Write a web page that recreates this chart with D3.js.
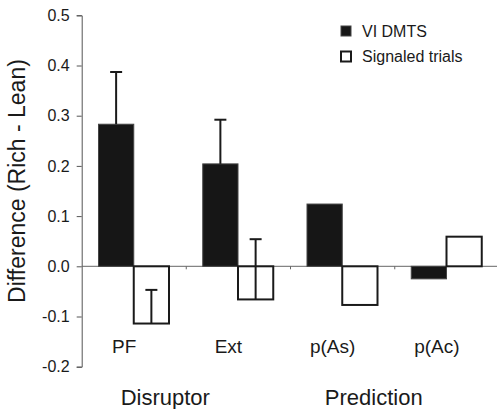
<!DOCTYPE html>
<html>
<head>
<meta charset="utf-8">
<script src="https://cdn.jsdelivr.net/npm/d3@7"></script>
<style>
  body { margin: 0; background: #fff; }
  text { font-family: "Liberation Sans", Arial, Helvetica, sans-serif; fill: #1a1a1a; }
</style>
</head>
<body>
<div id="chart"></div>
<script>
// data
var categories = ['PF', 'Ext', 'p(As)', 'p(Ac)'];
var series = ['VI DMTS', 'Signaled trials'];
var viValues = [0.283, 0.204, 0.124, -0.025];
var viErrors = [0.104, 0.088, null, null];
var signaledValues = [-0.114, -0.066, -0.077, 0.059];
var signaledErrors = [0.067, 0.120, null, null];
var yTicks = [-0.2, -0.1, 0.0, 0.1, 0.2, 0.3, 0.4, 0.5];
var groupLabels = ['Disruptor', 'Prediction'];
var yTitle = 'Difference (Rich - Lean)';

var width = 497;
var height = 409;

var svg = d3.select('#chart')
    .append('svg')
    .attr('width', width)
    .attr('height', height);

//scales
var x = d3.scaleBand()
    .domain(categories)
    .range([82, 499])
    .padding(0);

var x1 = d3.scaleBand()
    .domain(series)
    .range([16.5, 87])
    .padding(0);

var y = d3.scaleLinear()
    .domain([-0.2, 0.5])
    .range([366.7, 15.3]);

//y axis
var yAxis = svg.append('g')
    .attr('class', 'y-axis')
    .attr('transform', 'translate(81.7,0)')
    .call(d3.axisLeft(y)
        .tickValues(yTicks)
        .tickFormat(function(d){ return d.toFixed(1); })
        .tickSizeOuter(0)
        .tickSize(5)
        .tickPadding(7))
    .call(function(g){ g.attr('font-family', null).attr('font-size', null); });

yAxis.select('.domain').attr('stroke', '#555');
yAxis.selectAll('.tick line').attr('stroke', '#555');
yAxis.selectAll('.tick text')
    .style('font-size', '16px')
    .attr('fill', '#1a1a1a');

//zero line with ticks between groups
var xAxis = svg.append('g')
    .attr('class', 'x-axis')
    .attr('transform', 'translate(0,' + y(0) + ')');

xAxis.append('line')
    .attr('x1', 81.7)
    .attr('x2', width)
    .attr('y1', 0)
    .attr('y2', 0)
    .attr('stroke', '#666')
    .attr('stroke-width', 1);

xAxis.selectAll('.sep')
    .data(categories.slice(1))
    .enter()
    .append('line')
    .attr('class', 'sep')
    .attr('x1', function(d){ return x(d); })
    .attr('x2', function(d){ return x(d); })
    .attr('y1', 0)
    .attr('y2', 3)
    .attr('stroke', '#666');

//bars
var rows = categories.map(function(c, i){
    return [
        {cat: c, key: series[0], value: viValues[i], err: viErrors[i]},
        {cat: c, key: series[1], value: signaledValues[i], err: signaledErrors[i]}
    ];
});
var flat = [].concat.apply([], rows);

svg.append('g')
    .attr('class', 'bars')
    .selectAll('rect')
    .data(flat)
    .enter()
    .append('rect')
    .attr('x', function(d){ return x(d.cat) + x1(d.key); })
    .attr('y', function(d){ return y(Math.max(0, d.value)); })
    .attr('width', x1.bandwidth())
    .attr('height', function(d){ return Math.abs(y(d.value) - y(0)); })
    .attr('fill', function(d){ return d.key === series[0] ? '#161616' : '#fff'; })
    .attr('stroke', function(d){ return d.key === series[0] ? '#444' : '#1a1a1a'; })
    .attr('stroke-width', function(d){ return d.key === series[0] ? 1 : 2; });

//error bars, drawn upward from the bar end
var errs = flat.filter(function(d){ return d.err !== null; });
var eg = svg.append('g').attr('class', 'errors');

eg.selectAll('.err-line')
    .data(errs)
    .enter()
    .append('line')
    .attr('class', 'err-line')
    .attr('x1', function(d){ return x(d.cat) + x1(d.key) + x1.bandwidth() / 2; })
    .attr('x2', function(d){ return x(d.cat) + x1(d.key) + x1.bandwidth() / 2; })
    .attr('y1', function(d){ return y(d.value); })
    .attr('y2', function(d){ return y(d.value + d.err); })
    .attr('stroke', '#1a1a1a')
    .attr('stroke-width', 2);

eg.selectAll('.err-cap')
    .data(errs)
    .enter()
    .append('line')
    .attr('class', 'err-cap')
    .attr('x1', function(d){ return x(d.cat) + x1(d.key) + x1.bandwidth() / 2 - 6; })
    .attr('x2', function(d){ return x(d.cat) + x1(d.key) + x1.bandwidth() / 2 + 6; })
    .attr('y1', function(d){ return y(d.value + d.err); })
    .attr('y2', function(d){ return y(d.value + d.err); })
    .attr('stroke', '#1a1a1a')
    .attr('stroke-width', 2);

//category labels
svg.append('g')
    .selectAll('text')
    .data(categories)
    .enter()
    .append('text')
    .attr('x', function(d){ return x(d) + x.bandwidth() / 2 - 10; })
    .attr('y', 353)
    .attr('text-anchor', 'middle')
    .style('font-size', '19px')
    .text(function(d){ return d; });

//group labels
svg.append('g')
    .selectAll('text')
    .data(groupLabels)
    .enter()
    .append('text')
    .attr('x', function(d, i){ return x(categories[i * 2 + 1]) - 21; })
    .attr('y', 405)
    .attr('text-anchor', 'middle')
    .style('font-size', '22px')
    .text(function(d){ return d; });

//y title
svg.append('text')
    .attr('transform', 'translate(25,181) rotate(-90)')
    .attr('text-anchor', 'middle')
    .style('font-size', '23px')
    .text(yTitle);

//legend
var legend = svg.append('g')
    .attr('class', 'legend')
    .attr('transform', 'translate(340,25)');

series.forEach(function(key, i){
    var row = legend.append('g')
        .attr('transform', 'translate(0,' + (i * 25.5) + ')');
    row.append('rect')
        .attr('x', 1)
        .attr('y', 1)
        .attr('width', 10)
        .attr('height', 10)
        .attr('fill', i === 0 ? '#161616' : '#fff')
        .attr('stroke', i === 0 ? '#444' : '#1a1a1a')
        .attr('stroke-width', i === 0 ? 1 : 2);
    row.append('text')
        .attr('x', 22)
        .attr('y', 11.5)
        .style('font-size', '16px')
        .text(key);
});
</script>
</body>
</html>
